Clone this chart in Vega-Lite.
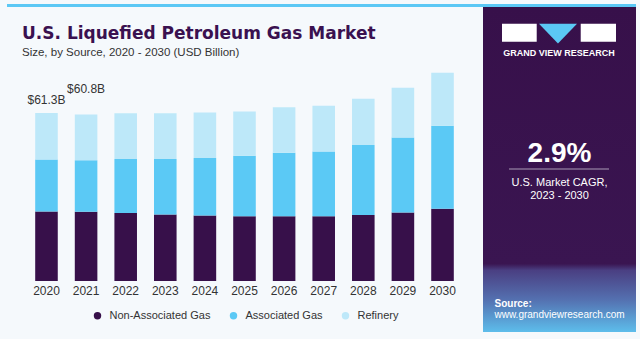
{
  "$schema": "https://vega.github.io/schema/vega-lite/v6.json",
  "background": "#F5F9FC",
  "padding": {"left": 7, "top": 4, "right": 4, "bottom": 7},
  "config": {"view": {"stroke": null}, "font": "Liberation Sans"},
  "datasets": {
    "lpg": [
      {"year": "2020", "source": "Non-Associated Gas", "rank": 1, "value": 25.4},
      {"year": "2020", "source": "Associated Gas", "rank": 2, "value": 18.9},
      {"year": "2020", "source": "Refinery", "rank": 3, "value": 17.0},
      {"year": "2021", "source": "Non-Associated Gas", "rank": 1, "value": 25.3},
      {"year": "2021", "source": "Associated Gas", "rank": 2, "value": 18.8},
      {"year": "2021", "source": "Refinery", "rank": 3, "value": 16.7},
      {"year": "2022", "source": "Non-Associated Gas", "rank": 1, "value": 24.8},
      {"year": "2022", "source": "Associated Gas", "rank": 2, "value": 19.7},
      {"year": "2022", "source": "Refinery", "rank": 3, "value": 16.7},
      {"year": "2023", "source": "Non-Associated Gas", "rank": 1, "value": 24.3},
      {"year": "2023", "source": "Associated Gas", "rank": 2, "value": 20.2},
      {"year": "2023", "source": "Refinery", "rank": 3, "value": 16.7},
      {"year": "2024", "source": "Non-Associated Gas", "rank": 1, "value": 23.9},
      {"year": "2024", "source": "Associated Gas", "rank": 2, "value": 21.0},
      {"year": "2024", "source": "Refinery", "rank": 3, "value": 16.6},
      {"year": "2025", "source": "Non-Associated Gas", "rank": 1, "value": 23.6},
      {"year": "2025", "source": "Associated Gas", "rank": 2, "value": 22.1},
      {"year": "2025", "source": "Refinery", "rank": 3, "value": 16.2},
      {"year": "2026", "source": "Non-Associated Gas", "rank": 1, "value": 23.6},
      {"year": "2026", "source": "Associated Gas", "rank": 2, "value": 23.2},
      {"year": "2026", "source": "Refinery", "rank": 3, "value": 16.6},
      {"year": "2027", "source": "Non-Associated Gas", "rank": 1, "value": 23.6},
      {"year": "2027", "source": "Associated Gas", "rank": 2, "value": 23.7},
      {"year": "2027", "source": "Refinery", "rank": 3, "value": 16.7},
      {"year": "2028", "source": "Non-Associated Gas", "rank": 1, "value": 24.1},
      {"year": "2028", "source": "Associated Gas", "rank": 2, "value": 25.5},
      {"year": "2028", "source": "Refinery", "rank": 3, "value": 16.9},
      {"year": "2029", "source": "Non-Associated Gas", "rank": 1, "value": 25.0},
      {"year": "2029", "source": "Associated Gas", "rank": 2, "value": 27.4},
      {"year": "2029", "source": "Refinery", "rank": 3, "value": 18.1},
      {"year": "2030", "source": "Non-Associated Gas", "rank": 1, "value": 26.4},
      {"year": "2030", "source": "Associated Gas", "rank": 2, "value": 30.3},
      {"year": "2030", "source": "Refinery", "rank": 3, "value": 19.3}
    ],
    "totals": [
      {"year": "2020", "total": 61.3, "label": "$61.3B"},
      {"year": "2021", "total": 60.8, "label": "$60.8B"}
    ]
  },
  "spacing": 0,
  "vconcat": [
    {
      "width": 629,
      "height": 3,
      "view": {"fill": "#5BC8F5", "stroke": null},
      "data": {"values": [{}]},
      "mark": {"type": "rect", "color": "#5BC8F5"},
      "encoding": {}
    },
    {
      "spacing": 1,
      "hconcat": [
        {
          "width": 475,
          "height": 274,
          "title": {
            "text": "U.S. Liquefied Petroleum Gas Market",
            "subtitle": "Size, by Source, 2020 - 2030 (USD Billion)",
            "anchor": "start",
            "dx": 15,
            "font": "DejaVu Sans",
            "fontSize": 17,
            "fontWeight": "bold",
            "color": "#3A1150",
            "subtitleFont": "Liberation Sans",
            "subtitleFontSize": 11.5,
            "subtitleColor": "#333333",
            "subtitlePadding": 4,
            "offset": -52
          },
          "layer": [
            {
              "data": {"name": "lpg"},
              "mark": {"type": "bar"},
              "encoding": {
                "x": {
                  "field": "year",
                  "type": "ordinal",
                  "scale": {"paddingInner": 0.43, "paddingOuter": 0.712},
                  "axis": {"title": null, "labelAngle": 0, "ticks": false, "domain": false, "labelFontSize": 12, "labelColor": "#333333", "labelPadding": 4, "labelFont": "Liberation Sans"}
                },
                "y": {
                  "field": "value",
                  "type": "quantitative",
                  "stack": "zero",
                  "scale": {"domain": [0, 99.4]},
                  "axis": null
                },
                "order": {"field": "rank", "type": "quantitative"},
                "color": {
                  "field": "source",
                  "type": "nominal",
                  "sort": ["Non-Associated Gas", "Associated Gas", "Refinery"],
                  "scale": {"domain": ["Non-Associated Gas", "Associated Gas", "Refinery"], "range": ["#37104A", "#5BC9F5", "#BDE8F9"]},
                  "legend": {"title": null, "orient": "none", "legendX": 85, "legendY": 306, "direction": "horizontal", "symbolType": "circle", "symbolSize": 55, "labelFontSize": 11, "labelColor": "#333333", "columnPadding": 17, "labelOffset": 6.5, "padding": 0, "labelFont": "Liberation Sans"}
                }
              }
            },
            {
              "data": {"name": "totals"},
              "transform": [{"filter": "datum.year == '2020'"}],
              "mark": {"type": "text", "dy": -9, "fontSize": 12, "color": "#333333", "baseline": "alphabetic"},
              "encoding": {
                "x": {"field": "year", "type": "ordinal"},
                "y": {"field": "total", "type": "quantitative"},
                "text": {"field": "label"}
              }
            },
            {
              "data": {"name": "totals"},
              "transform": [{"filter": "datum.year == '2021'"}],
              "mark": {"type": "text", "dy": -21.5, "fontSize": 12, "color": "#333333", "baseline": "alphabetic"},
              "encoding": {
                "x": {"field": "year", "type": "ordinal"},
                "y": {"field": "total", "type": "quantitative"},
                "text": {"field": "label"}
              }
            }
          ]
        },
        {
          "width": 153,
          "height": 325,
          "view": {
            "stroke": null,
            "fill": {
              "gradient": "linear", "x1": 0, "y1": 0, "x2": 0, "y2": 1,
              "stops": [
                {"offset": 0, "color": "#37104A"},
                {"offset": 0.79, "color": "#3A1551"},
                {"offset": 0.81, "color": "#4A3F82"},
                {"offset": 0.9, "color": "#5470B0"},
                {"offset": 1, "color": "#5DBDEB"}
              ]
            }
          },
          "layer": [
            {
              "data": {"values": [{"part": "logo"}]},
              "mark": {"type": "point", "filled": true, "color": "white", "opacity": 1, "strokeWidth": 0, "size": 12996, "shape": "M-1,-0.158H-0.391V0.158H-1Z M0.381,-0.158H1V0.158H0.381Z"},
              "encoding": {"x": {"value": 76}, "y": {"value": 25.7}}
            },
            {
              "data": {"values": [{"part": "logo"}]},
              "mark": {"type": "point", "filled": true, "color": "#5BC8F5", "opacity": 1, "strokeWidth": 0, "size": 12996, "shape": "M-0.351,-0.158H0.316L-0.018,0.19Z"},
              "encoding": {"x": {"value": 76}, "y": {"value": 25.7}}
            },
            {
              "data": {"values": [{"t": "GRAND VIEW RESEARCH"}]},
              "mark": {"type": "text", "color": "white", "fontSize": 9, "fontWeight": "bold", "align": "center", "baseline": "middle"},
              "encoding": {"text": {"field": "t"}, "x": {"value": 76}, "y": {"value": 45.7}}
            },
            {
              "data": {"values": [{"t": "2.9%"}]},
              "mark": {"type": "text", "color": "white", "fontSize": 28, "fontWeight": "bold", "align": "center", "baseline": "alphabetic"},
              "encoding": {"text": {"field": "t"}, "x": {"value": 76.5}, "y": {"value": 154.7}}
            },
            {
              "data": {"values": [{"t": "rule"}]},
              "mark": {"type": "rule", "color": "#A99BB5", "strokeWidth": 1.2},
              "encoding": {"x": {"value": 26}, "x2": {"value": 126}, "y": {"value": 162}}
            },
            {
              "data": {"values": [{"t": "U.S. Market CAGR,"}]},
              "mark": {"type": "text", "color": "white", "fontSize": 11, "align": "center", "baseline": "alphabetic"},
              "encoding": {"text": {"field": "t"}, "x": {"value": 76.5}, "y": {"value": 179}}
            },
            {
              "data": {"values": [{"t": "2023 - 2030"}]},
              "mark": {"type": "text", "color": "white", "fontSize": 11, "align": "center", "baseline": "alphabetic"},
              "encoding": {"text": {"field": "t"}, "x": {"value": 76.5}, "y": {"value": 191.5}}
            },
            {
              "data": {"values": [{"t": "Source:"}]},
              "mark": {"type": "text", "color": "white", "fontSize": 10, "fontWeight": "bold", "align": "left", "baseline": "alphabetic"},
              "encoding": {"text": {"field": "t"}, "x": {"value": 11.5}, "y": {"value": 299.5}}
            },
            {
              "data": {"values": [{"t": "www.grandviewresearch.com"}]},
              "mark": {"type": "text", "color": "white", "fontSize": 10, "align": "left", "baseline": "alphabetic"},
              "encoding": {"text": {"field": "t"}, "x": {"value": 11.5}, "y": {"value": 310.5}}
            }
          ]
        }
      ]
    }
  ]
}
